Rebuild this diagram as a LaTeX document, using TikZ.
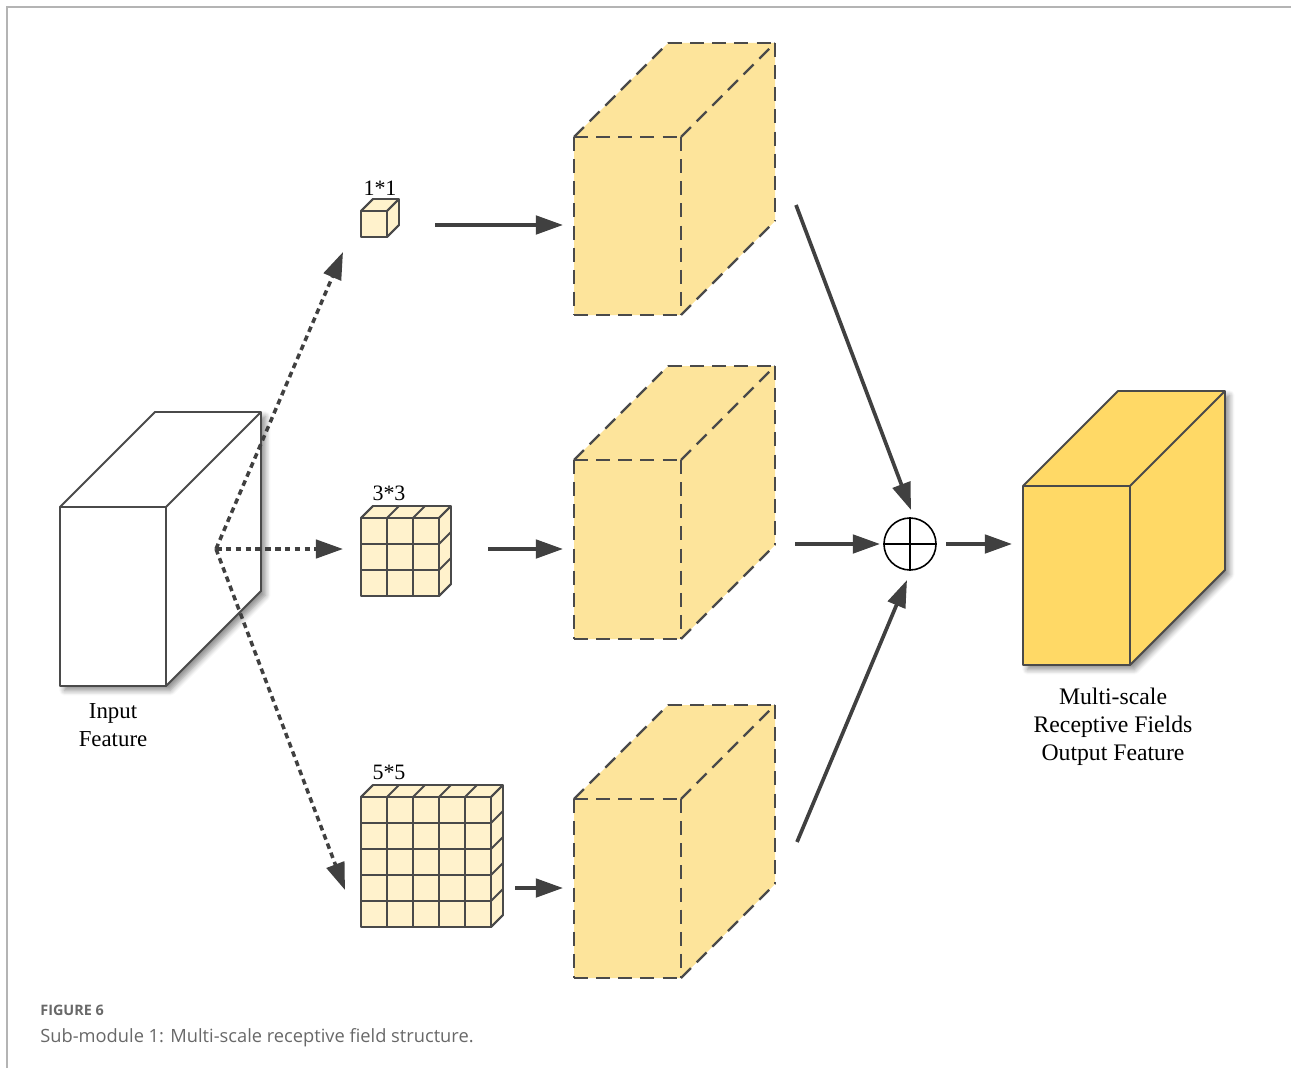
\documentclass[tikz,border=0pt]{standalone}
\usepackage{fontspec}
\setmainfont{Liberation Serif}
\newfontfamily\capfont{Open Sans}
\usetikzlibrary{arrows.meta,shadows.blur}

\definecolor{edgec}{HTML}{4A4A4A}
\definecolor{arrowc}{HTML}{404040}
\definecolor{dashfill}{HTML}{FDE49B}
\definecolor{cellfill}{HTML}{FFF2CC}
\definecolor{outfill}{HTML}{FFD966}
\definecolor{framec}{HTML}{B4B4B4}
\definecolor{capc}{HTML}{686868}

\tikzset{
  edge/.style={draw=edgec, line width=1.1pt, line join=round},
  dashedge/.style={draw=edgec, line width=1.25pt, dash pattern=on 8pt off 4.6pt},
  flow/.style={draw=arrowc, line width=2.1pt, -{Triangle[length=15.5pt,width=10.5pt]}},
  branch/.style={draw=arrowc, line width=2pt, dash pattern=on 3.2pt off 2.4pt,
    -{Triangle[length=15.5pt,width=10.5pt]}},
  lbl/.style={font=\fontsize{13}{16}\selectfont, align=center, inner sep=0pt},
  olbl/.style={font=\fontsize{13.5}{16}\selectfont, align=center, inner sep=0pt},
  klbl/.style={font=\fontsize{12.5}{15}\selectfont, inner sep=0pt},
  shade3d/.style={blur shadow={shadow xshift=2.5pt, shadow yshift=-2.5pt,
    shadow blur steps=6, shadow blur radius=3pt, shadow opacity=45}},
}

% solid block: #1 fill, #2 x, #3 y (front top-left), #4 width, #5 height, #6 depth
\newcommand\solidblock[6]{%
  \path[fill=#1, shade3d] (#2,#3) -- ++(#6,-#6) -- ++(#4,0) -- ++(0,#5)
    -- ++(-#6,#6) -- ++(-#4,0) -- cycle;
  \path[edge] (#2,#3) -- ++(#6,-#6) -- ++(#4,0) -- ++(0,#5)
    -- ++(-#6,#6) -- ++(-#4,0) -- cycle;
  \path[edge] (#2,#3) -- ++(#4,0) -- ++(0,#5);
  \path[edge] (#2,#3) ++(#4,0) -- ++(#6,-#6);
}

% dashed block: #1 x, #2 y (front top-left), #3 width, #4 height, #5 depth
\newcommand\dashblock[5]{%
  \fill[dashfill] (#1,#2) -- ++(#5,-#5) -- ++(#3,0) -- ++(0,#4)
    -- ++(-#5,#5) -- ++(-#3,0) -- cycle;
  \path[dashedge] (#1,#2) -- ++(#3,0);
  \path[dashedge] (#1,#2) -- ++(0,#4);
  \path[dashedge] (#1,#2) ++(0,#4) -- ++(#3,0);
  \path[dashedge] (#1,#2) ++(#3,0) -- ++(0,#4);
  \path[dashedge] (#1,#2) -- ++(#5,-#5);
  \path[dashedge] (#1,#2) ++(#3,0) -- ++(#5,-#5);
  \path[dashedge] (#1,#2) ++(#5,-#5) -- ++(#3,0);
  \path[dashedge] (#1,#2) ++(#3,0) ++(#5,-#5) -- ++(0,#4);
  \path[dashedge] (#1,#2) ++(#3,#4) -- ++(#5,-#5);
}

% kernel made of n x n cells: #1 x, #2 y (front top-left), #3 n
\newcommand\kernelblock[3]{%
  \pgfmathsetmacro\kw{26*#3}
  \fill[cellfill] (#1,#2) -- ++(12,-12) -- ++(\kw,0) -- ++(0,\kw)
    -- ++(-12,12) -- ++(-\kw,0) -- cycle;
  \path[edge] (#1,#2) -- ++(12,-12) -- ++(\kw,0) -- ++(0,\kw)
    -- ++(-12,12) -- ++(-\kw,0) -- cycle;
  \foreach \i in {0,...,#3}{
    \path[edge] (#1,#2) ++(26*\i,0) -- ++(0,\kw);
    \path[edge] (#1,#2) ++(0,26*\i) -- ++(\kw,0);
    \path[edge] (#1,#2) ++(26*\i,0) -- ++(12,-12);
    \path[edge] (#1,#2) ++(\kw,26*\i) -- ++(12,-12);
  }
}

\begin{document}
\begin{tikzpicture}[x=0.02cm, y=-0.02cm]
\useasboundingbox (0,0) rectangle (1291,1068);

% page frame
\draw[framec, line width=0.9pt] (7,1068) -- (7,7) -- (1291,7);

% input feature
\solidblock{white}{60}{507}{106}{179}{95}
\node[lbl] (inlbl) at (113,725) {Input\\Feature};

% kernels
\kernelblock{361}{211}{1}
\kernelblock{361}{518}{3}
\kernelblock{361}{797}{5}
\node[klbl] (k1) at (380,188) {1*1};
\node[klbl] (k3) at (389,493) {3*3};
\node[klbl] (k5) at (389,772) {5*5};

% branch feature maps
\dashblock{574}{137}{107}{178}{94}
\dashblock{574}{460}{107}{179}{94}
\dashblock{574}{799}{107}{179}{94}

% fused output feature
\solidblock{outfill}{1023}{486}{107}{179}{95}
\node[olbl] (outlbl) at (1113,727) {Multi-scale\\Receptive Fields\\Output Feature};

% summation node
\node[draw=black, line width=0.9pt, circle, minimum size=1.04cm, inner sep=0pt] (sum) at (910,544) {};
\draw[black, line width=0.9pt] (sum.north) -- (sum.south) (sum.west) -- (sum.east);

% connector end points
\coordinate (split) at (216,549);
\coordinate (b1) at (343,252);
\coordinate (b3) at (343,549);
\coordinate (b5) at (345,890);
\coordinate (k1o) at (435,225);
\coordinate (k3o) at (488,549);
\coordinate (k5o) at (515,888);
\coordinate (f1i) at (563,225);
\coordinate (f3i) at (563,549);
\coordinate (f5i) at (563,888);
\coordinate (f1o) at (796,205);
\coordinate (f3o) at (795,544);
\coordinate (f5o) at (797,842);
\coordinate (s1) at (911,510);
\coordinate (s3) at (880,544);
\coordinate (s5) at (907,580);
\coordinate (sumo) at (946,544);
\coordinate (outi) at (1012,544);

% branches from the input feature
\draw[branch] (split) -- (b1);
\draw[branch] (split) -- (b3);
\draw[branch] (split) -- (b5);

% kernels to feature maps
\draw[flow] (k1o) -- (f1i);
\draw[flow] (k3o) -- (f3i);
\draw[flow] (k5o) -- (f5i);

% feature maps to summation
\draw[flow] (f1o) -- (s1);
\draw[flow] (f3o) -- (s3);
\draw[flow] (f5o) -- (s5);
\draw[flow] (sumo) -- (outi);

% caption
\node[anchor=base west, inner sep=0pt, text=capc,
  font=\capfont\bfseries\fontsize{8.2}{10}\selectfont] (fig) at (40,1015) {FIGURE 6};
\node[anchor=base west, inner sep=0pt, text=capc,
  font=\capfont\fontsize{10.4}{12}\selectfont] (cap) at (40,1042)
  {Sub-module 1: Multi-scale receptive field structure.};
\end{tikzpicture}
\end{document}
